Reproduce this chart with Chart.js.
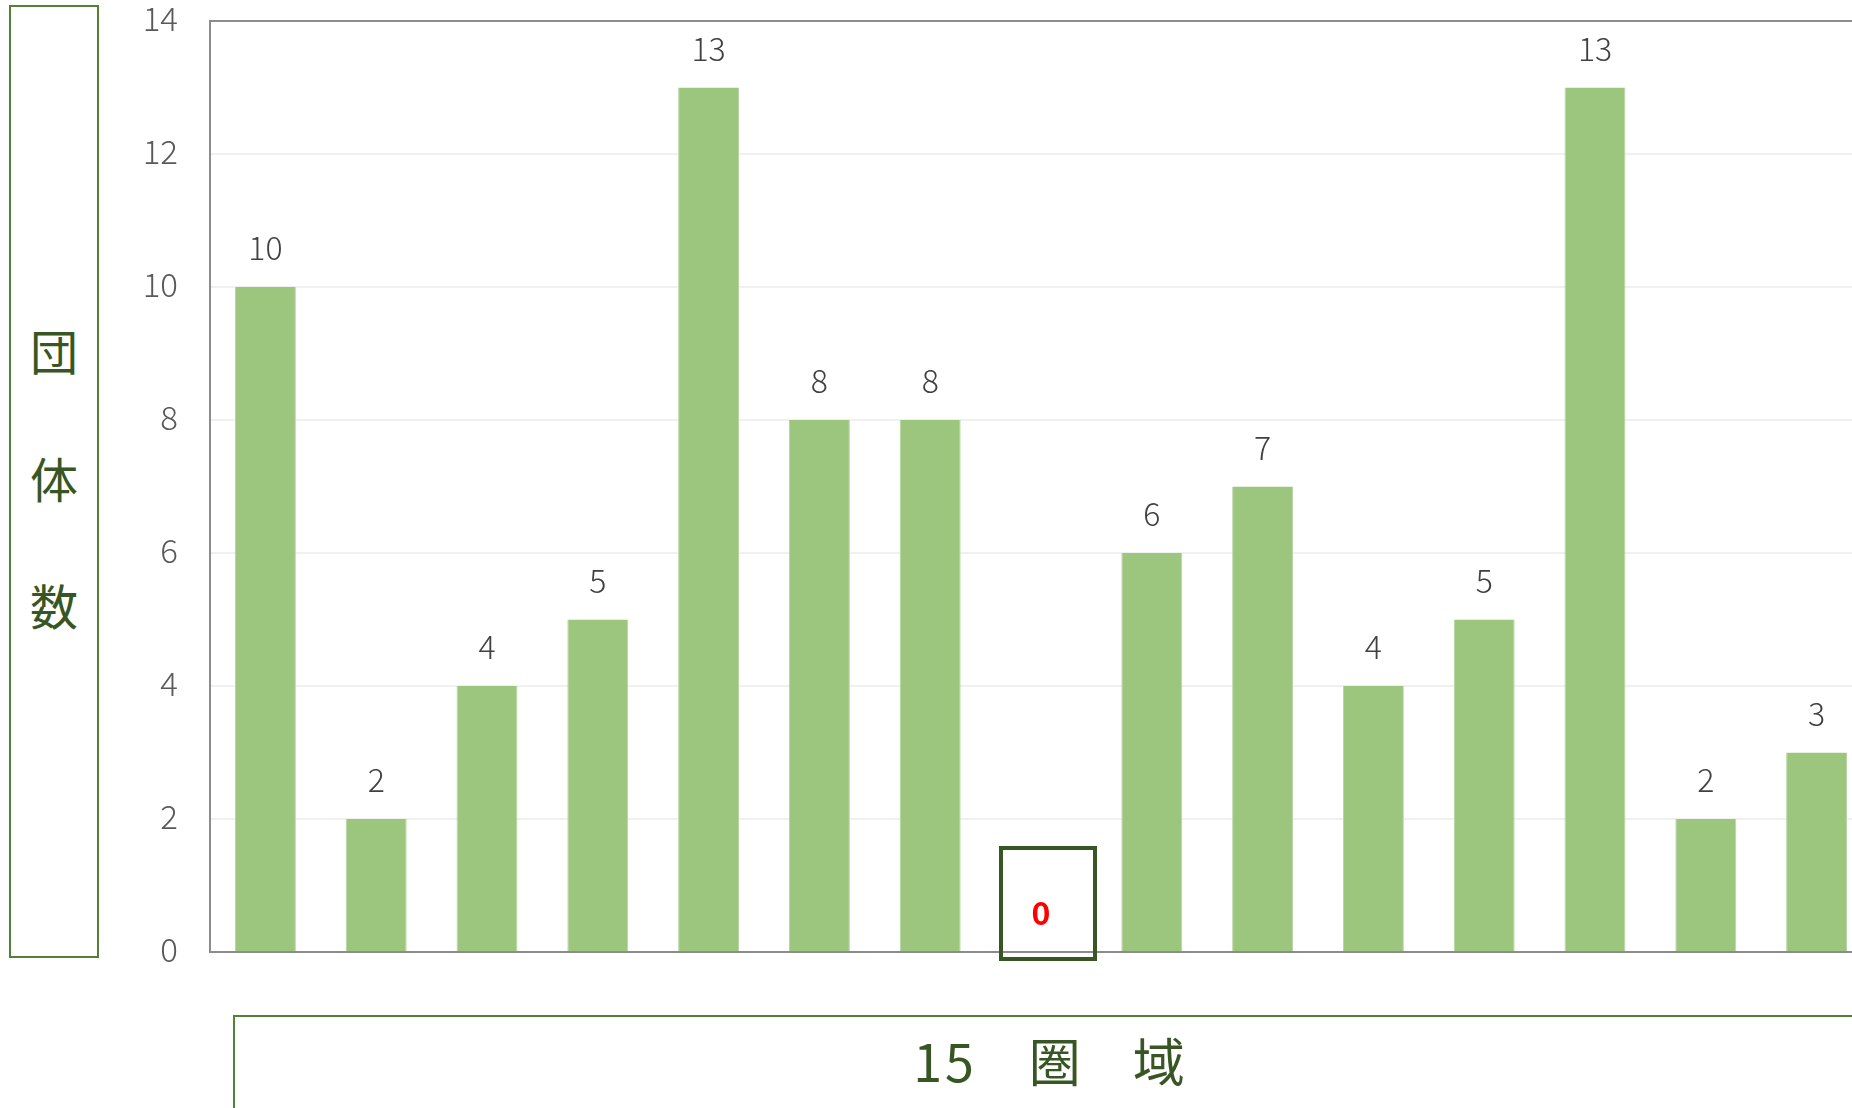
<!DOCTYPE html>
<html>
<head>
<meta charset="utf-8">
<script src="https://cdn.jsdelivr.net/npm/chart.js@4.4.1/dist/chart.umd.min.js"></script>
<style>
  html, body { margin:0; padding:0; background:#ffffff; overflow:hidden; width:1852px; height:1108px; }
  #wrap { position:absolute; left:0; top:0; width:1872px; height:1000px; }
  #ybox { position:absolute; left:9px; top:5px; width:90px; height:953px; box-sizing:border-box;
          border:2px solid #548235; }
  .ych { position:absolute; left:0; width:86px; text-align:center; font-family:"Noto Sans CJK JP"; font-size:48px;
         line-height:48px; height:48px; color:#375623; }
  #xbox { position:absolute; left:233px; top:1015px; width:1632px; height:200px; box-sizing:border-box;
          border:2px solid #548235; }
  #xtitle { position:absolute; left:0; width:1628px; top:17px; text-align:center; font-family:"Noto Sans CJK JP";
            font-size:52px; line-height:52px; color:#375623; }
  #xtitle .num { letter-spacing:3px; }
</style>
</head>
<body>
<div id="ybox">
  <div class="ych" style="top:318px">団</div>
  <div class="ych" style="top:446px">体</div>
  <div class="ych" style="top:573px">数</div>
</div>
<div id="xbox"><div id="xtitle"><span class="num">15</span>　圏　域</div></div>
<div id="wrap"><canvas id="c"></canvas></div>
<script>
const categories = ['1','2','3','4','5','6','7','8','9','10','11','12','13','14','15'];
const values = [10, 2, 4, 5, 13, 8, 8, 0, 6, 7, 4, 5, 13, 2, 3];
const yMin = 0, yMax = 14, yStep = 2;
const FONT = '"Noto Sans CJK JP", "Noto Sans", sans-serif';

const valueLabels = {
  id: 'valueLabels',
  afterDatasetsDraw(chart) {
    const ctx = chart.ctx;
    const meta = chart.getDatasetMeta(0);
    meta.data.forEach((bar, i) => {
      const v = values[i];
      ctx.save();
      ctx.textAlign = 'center';
      ctx.textBaseline = 'middle';
      if (v === 0) {
        ctx.fillStyle = '#FF0000';
        ctx.font = 'bold 32px ' + FONT;
      } else {
        ctx.fillStyle = '#404040';
        ctx.font = '300 32px ' + FONT;
      }
      ctx.fillText(String(v), bar.x, bar.y - 39);
      if (v === 0) {
        ctx.strokeStyle = '#375623';
        ctx.lineWidth = 4;
        ctx.strokeRect(bar.x - 40, bar.y - 104, 94, 111);
      }
      ctx.restore();
    });
  }
};

new Chart(document.getElementById('c'), {
  type: 'bar',
  data: {
    labels: categories,
    datasets: [{
      data: values,
      backgroundColor: '#9CC57E',
      borderColor: '#B4D59F',
      borderWidth: { left: 1, right: 1, top: 0, bottom: 0 },
      categoryPercentage: 1,
      barPercentage: 0.55
    }]
  },
  options: {
    responsive: true,
    maintainAspectRatio: false,
    animation: false,
    layout: { padding: { top: 21, bottom: 48, left: 0, right: 0 } },
    plugins: { legend: { display: false }, tooltip: { enabled: false } },
    scales: {
      x: {
        afterFit(scale) { scale.height = 0; scale.paddingLeft = 0; scale.paddingRight = 0; scale.paddingTop = 0; scale.paddingBottom = 0; },
        grid: { display: false, drawTicks: false },
        border: { display: true, color: '#8C8C8C', width: 2 },
        ticks: { display: false }
      },
      y: {
        min: yMin, max: yMax,
        afterFit(scale) { scale.width = 210; scale.paddingTop = 0; scale.paddingBottom = 0; },
        ticks: { stepSize: yStep, padding: 32, labelOffset: -3, color: '#595959', font: { family: FONT, size: 33, weight: '300' } },
        grid: {
          drawTicks: false,
          color: (c) => c.tick && c.tick.value === yMax ? '#8C8C8C' : (c.tick && c.tick.value === yMin ? 'rgba(0,0,0,0)' : '#F0F0F0'),
          lineWidth: 2
        },
        border: { display: true, color: '#8C8C8C', width: 2 }
      }
    }
  },
  plugins: [valueLabels]
});
</script>
</body>
</html>
